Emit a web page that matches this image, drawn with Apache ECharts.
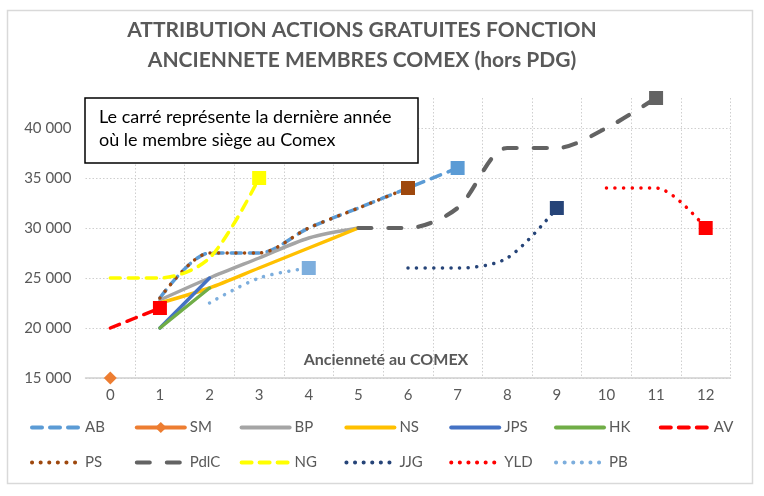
<!DOCTYPE html>
<html><head><meta charset="utf-8">
<script src="https://cdn.jsdelivr.net/npm/echarts@6/dist/echarts.min.js"></script>
<style>html,body{margin:0;padding:0;background:#fff}#c{width:764px;height:496px}</style>
</head><body><div id="c"></div>
<script>
const categories = ['0','1','2','3','4','5','6','7','8','9','10','11','12'];
const AB   = [null, 23000, 27500, 27500, 30000, 32000, 34000, 36000, null, null, null, null, null];
const SM   = [15000, null, null, null, null, null, null, null, null, null, null, null, null];
const BP   = [null, 22800, 25000, 27000, 29000, 30000, null, null, null, null, null, null, null];
const NS   = [null, 22500, 24000, 26000, 28000, 30000, null, null, null, null, null, null, null];
const JPS  = [null, 20000, 25000, null, null, null, null, null, null, null, null, null, null];
const HK   = [null, 20000, 24000, null, null, null, null, null, null, null, null, null, null];
const AV   = [20000, 22000, null, null, null, null, null, null, null, null, null, null, null];
const PS   = [null, 23000, 27500, 27500, 30000, 32000, 34000, null, null, null, null, null, null];
const PdlC = [null, null, null, null, null, 30000, 30000, 32000, 38000, 38000, 40000, 43000, null];
const NG   = [25000, 25000, 27000, 35000, null, null, null, null, null, null, null, null, null];
const JJG  = [null, null, null, null, null, null, 26000, 26000, 27000, 32000, null, null, null];
const YLD  = [null, null, null, null, null, null, null, null, null, null, 34000, 34000, 30000];
const PB   = [null, null, 22500, 25000, 26000, null, null, null, null, null, null, null, null];

const FONT = 'Lato';
const DOT = [0.1, 8.5];
const DASH = [10, 8];
const LONGDASH = [13, 17];

function withSquare(arr, color) {
  let last = -1;
  arr.forEach((v, i) => { if (v !== null) last = i; });
  return arr.map((v, i) => (i === last ? { value: v, symbol: 'rect', symbolSize: 14, itemStyle: { color: color } } : v));
}

const defs = [
  { name: 'AB', data: AB, color: '#5B9BD5', type: DASH, sq: true },
  { name: 'SM', data: SM, color: '#ED7D31', type: 'solid', diamond: true },
  { name: 'BP', data: BP, color: '#A5A5A5', type: 'solid' },
  { name: 'NS', data: NS, color: '#FFC000', type: 'solid' },
  { name: 'JPS', data: JPS, color: '#4472C4', type: 'solid' },
  { name: 'HK', data: HK, color: '#70AD47', type: 'solid' },
  { name: 'AV', data: AV, color: '#FF0000', type: DASH, sq: true },
  { name: 'PS', data: PS, color: '#9E480E', type: DOT, sq: true },
  { name: 'PdlC', data: PdlC, color: '#636363', type: LONGDASH, sq: true, w: 4.2 },
  { name: 'NG', data: NG, color: '#FFFF00', type: DASH, sq: true },
  { name: 'JJG', data: JJG, color: '#264478', type: DOT, sq: true },
  { name: 'YLD', data: YLD, color: '#FF0000', type: DOT, sq: true },
  { name: 'PB', data: PB, color: '#7DAEDD', type: DOT, sq: true }
];

const series = defs.map(d => ({
  name: d.name,
  type: 'line',
  data: d.sq ? withSquare(d.data, d.color) : d.data,
  symbol: d.diamond ? 'diamond' : 'none',
  symbolSize: d.diamond ? 13 : 14,
  showSymbol: true,
  showAllSymbol: true,
  smooth: 0.3,
  connectNulls: false,
  color: d.color,
  itemStyle: { color: d.color },
  lineStyle: { color: d.color, width: d.w || 3.5, type: d.type, cap: 'round', join: 'round' },
  emphasis: { disabled: true },
  animation: false
}));

const legends = defs.map((d, i) => ({
  data: [d.name],
  left: 30 + 104.8 * (i % 7),
  top: i < 7 ? 420 : 455,
  itemWidth: 48,
  itemHeight: 14,
  padding: 0,
  selectedMode: false,
  itemStyle: d.diamond ? { color: d.color } : { opacity: 0 },
  lineStyle: { width: 4, color: d.color, type: d.type, cap: 'round' },
  textStyle: { color: '#595959', fontSize: 15, fontFamily: FONT }
}));

function fmt(v) { return String(v).replace(/\B(?=(\d{3})+(?!\d))/g, ' '); }

const chart = echarts.init(document.getElementById('c'), null, { renderer: 'canvas' });
chart.setOption({
  animation: false,
  backgroundColor: '#fff',
  textStyle: { fontFamily: FONT },
  grid: { left: 85.5, right: 33.5, top: 98, bottom: 118, containLabel: false },
  xAxis: {
    type: 'category',
    data: categories,
    boundaryGap: true,
    axisLine: { show: true, lineStyle: { color: '#d0d0d0', width: 1.5 } },
    axisTick: { show: false },
    axisLabel: { color: '#595959', fontSize: 15, fontFamily: FONT, margin: 10, interval: 0 },
    splitLine: { show: true, showMinLine: false, lineStyle: { color: '#cfcfcf', type: [1.5, 2], width: 1 } }
  },
  yAxis: {
    type: 'value',
    min: 15000,
    max: 43000,
    interval: 5000,
    axisLine: { show: false },
    axisTick: { show: false },
    axisLabel: { color: '#595959', fontSize: 15, fontFamily: FONT, margin: 14, showMaxLabel: false,
      formatter: v => (v % 5000 === 0 ? fmt(v) : '') },
    splitLine: { show: true, showMaxLine: false, lineStyle: { color: '#cfcfcf', type: [1.5, 2], width: 1 } }
  },
  legend: legends,
  series: series,
  graphic: [
    { type: 'rect', z: -10, shape: { x: 7.5, y: 10.5, width: 745, height: 473 }, style: { fill: 'none', stroke: '#d9d9d9', lineWidth: 1.5 } },
    { type: 'text', z: 10, x: 362, y: 45, style: { text: 'ATTRIBUTION ACTIONS GRATUITES FONCTION\nANCIENNETE MEMBRES COMEX (hors PDG)', font: 'bold 21px Lato', fill: '#595959', textAlign: 'center', textVerticalAlign: 'middle', lineHeight: 30 } },
    { type: 'rect', z: 10, shape: { x: 85, y: 98, width: 333, height: 65 }, style: { fill: '#fff', stroke: '#000', lineWidth: 1.5 } },
    { type: 'text', z: 11, x: 99, y: 129, style: { text: 'Le carré représente la dernière année\noù le membre siège au Comex', font: '18px Lato', fill: '#000', textVerticalAlign: 'middle', lineHeight: 23 } },
    { type: 'text', z: 10, x: 386, y: 360, style: { text: 'Ancienneté au COMEX', font: 'bold 16px Lato', fill: '#595959', textAlign: 'center', textVerticalAlign: 'middle' } }
  ]
});
</script></body></html>
